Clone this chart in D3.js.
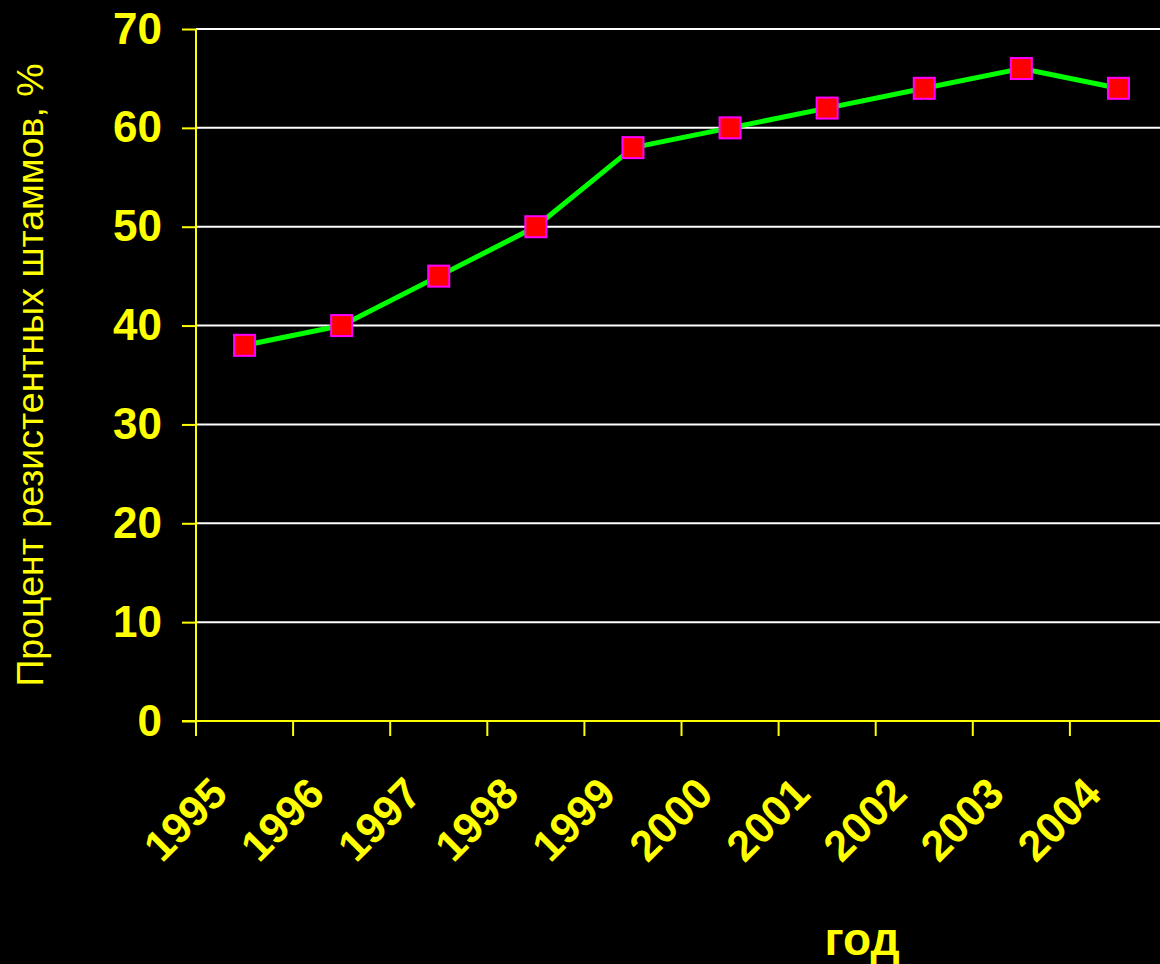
<!DOCTYPE html>
<html>
<head>
<meta charset="utf-8">
<script src="https://cdn.jsdelivr.net/npm/d3@7"></script>
<style>
  html, body { margin: 0; padding: 0; background: #000; }
  svg { display: block; }
</style>
</head>
<body>
<script>
// Share of resistant strains by year
const years = ["1995", "1996", "1997", "1998", "1999", "2000", "2001", "2002", "2003", "2004"];
const resistantPct = [38, 40, 45, 50, 58, 60, 62, 64, 66, 64];
const yTicks = [0, 10, 20, 30, 40, 50, 60, 70];
const yTitle = "Процент резистентных штаммов, %";
const xTitle = "год";

const W = 1160, H = 964;
const plotLeft = 196, plotRight = 1167, plotTop = 29, plotBottom = 721;
const yellow = "#ffff00";

const svg = d3.select("body").append("svg")
  .attr("width", W).attr("height", H)
  .style("background", "#000");

const x = d3.scaleBand().domain(years).range([plotLeft, plotRight]).padding(0);
const y = d3.scaleLinear().domain([0, 70]).range([plotBottom, plotTop]);

// horizontal gridlines (white), excluding the baseline
svg.append("g")
  .selectAll("line")
  .data(yTicks.filter(d => d > 0))
  .join("line")
  .attr("x1", plotLeft).attr("x2", W)
  .attr("y1", d => y(d)).attr("y2", d => y(d))
  .attr("stroke", "#fff").attr("stroke-width", 2);

// y axis
const yAxis = svg.append("g")
  .attr("transform", `translate(${plotLeft},0)`)
  .call(d3.axisLeft(y).tickValues(yTicks).tickSize(14).tickPadding(20).tickFormat(d3.format("d")));
yAxis.select(".domain").attr("stroke", yellow).attr("stroke-width", 2)
  .attr("d", `M0,${plotTop}V${plotBottom + 15}`);
yAxis.selectAll(".tick line").attr("stroke", yellow).attr("stroke-width", 2);
yAxis.selectAll(".tick text")
  .attr("fill", yellow)
  .style("font-family", "Arial, 'Liberation Sans', sans-serif")
  .style("font-weight", "bold")
  .style("font-size", "44px");

// x axis: baseline with ticks at category boundaries
const xAxisG = svg.append("g").attr("transform", `translate(0,${plotBottom})`);
xAxisG.append("line")
  .attr("x1", plotLeft - 14).attr("x2", W)
  .attr("stroke", yellow).attr("stroke-width", 2);
xAxisG.selectAll("line.tk")
  .data(years)
  .join("line")
  .attr("class", "tk")
  .attr("x1", d => x(d)).attr("x2", d => x(d))
  .attr("y1", 0).attr("y2", 15)
  .attr("stroke", yellow).attr("stroke-width", 2);

// rotated year labels
xAxisG.selectAll("text.yr")
  .data(years)
  .join("text")
  .attr("class", "yr")
  .attr("transform", d => `translate(${x(d) + x.bandwidth() / 2 - 15},75) rotate(-45)`)
  .attr("text-anchor", "end")
  .attr("fill", yellow)
  .style("font-family", "Arial, 'Liberation Sans', sans-serif")
  .style("font-weight", "bold")
  .style("font-size", "43px")
  .text(d => d);

// data line
const pts = years.map((yr, i) => ({ yr, v: resistantPct[i] }));
const cx = d => x(d.yr) + x.bandwidth() / 2;

svg.append("path")
  .datum(pts)
  .attr("fill", "none")
  .attr("stroke", "#00ff00")
  .attr("stroke-width", 5)
  .attr("stroke-linejoin", "round")
  .attr("d", d3.line().x(cx).y(d => y(d.v)));

// square markers
const ms = 21;
svg.append("g")
  .selectAll("rect")
  .data(pts)
  .join("rect")
  .attr("x", d => cx(d) - ms / 2)
  .attr("y", d => y(d.v) - ms / 2)
  .attr("width", ms).attr("height", ms)
  .attr("fill", "#ff0000")
  .attr("stroke", "#ff00ff")
  .attr("stroke-width", 2);

// axis titles
svg.append("text")
  .attr("transform", `translate(43,${(63 + 687) / 2}) rotate(-90)`)
  .attr("text-anchor", "middle")
  .attr("fill", yellow)
  .style("font-family", "Arial, 'Liberation Sans', sans-serif")
  .style("font-size", "37.5px")
  .text(yTitle);

svg.append("text")
  .attr("x", 862).attr("y", 955)
  .attr("text-anchor", "middle")
  .attr("fill", yellow)
  .style("font-family", "Arial, 'Liberation Sans', sans-serif")
  .style("font-weight", "bold")
  .style("font-size", "46px")
  .text(xTitle);
</script>
</body>
</html>
